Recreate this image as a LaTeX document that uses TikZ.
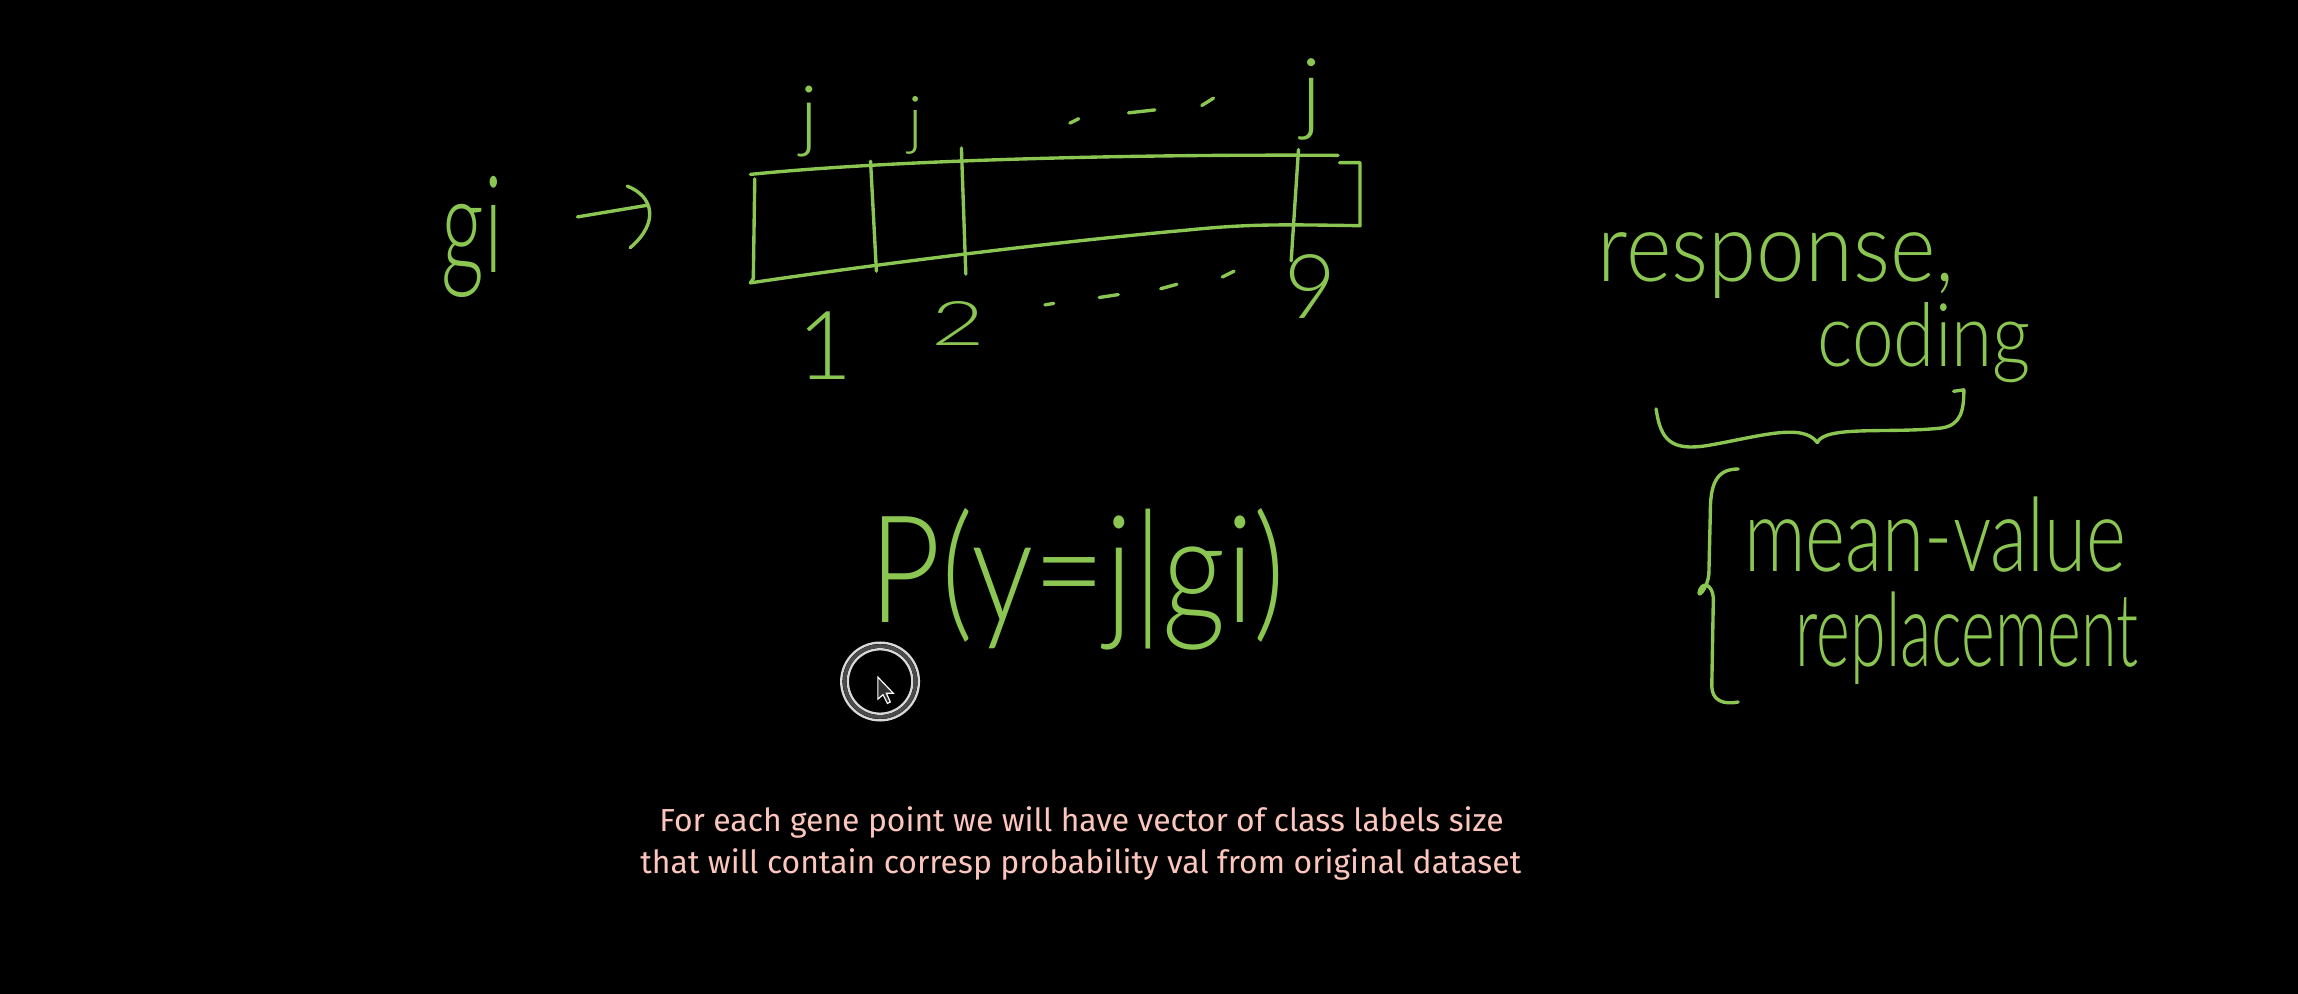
\documentclass[tikz,border=0pt]{standalone}
\usepackage{fontspec}
\usepackage{graphicx}
\IfFontExistsTF{Lato Light}{\newfontfamily\hw{Lato Light}}{\newfontfamily\hw{Lato}}
\newfontfamily\capfont{Fira Sans}
\definecolor{chalk}{RGB}{140,198,82}
\definecolor{capcol}{RGB}{252,198,188}
\newcommand\hwtext[3]{\scalebox{#2}[1]{\fontsize{#1}{#1}\selectfont #3}}
\tikzset{
  hand/.style={text=chalk, inner sep=0pt, font=\hw},
  stroke/.style={draw=chalk, line width=2.3pt, line cap=round, line join=round},
  captext/.style={text=capcol, inner sep=0pt, font=\capfont}
}
\begin{document}
\begin{tikzpicture}[x=1pt,y=-1pt]
\fill[black] (0,0) rectangle (1568,678);
\useasboundingbox (0,0) rectangle (1568,678);

% g_i and arrow
\node[hand, anchor=base west] (gi) at (301,186) {\hwtext{92}{0.62}{gi}};
\coordinate (arrS) at (394,148);
\coordinate (arrE) at (442,140);
\draw[stroke] (arrS) -- (arrE);
\draw[stroke] (428,127) .. controls (446,134) and (450,152) .. (430,169);

% table
\draw[stroke] (512,119) .. controls (600,110) and (760,105) .. (913,106);
\draw[stroke] (515,122) -- (514,190) -- (512,193);
\draw[stroke] (512,193) .. controls (600,180) and (720,165) .. (810,157) .. controls (850,153) and (870,153) .. (928,154) -- (928,111) -- (914,111);
\draw[stroke] (594,110) -- (598,185);
\draw[stroke] (656,101) -- (659,187);
\draw[stroke] (886,102) -- (881,178);

% labels above
\node[hand, anchor=base] (j1) at (552,97) {\hwtext{54}{1}{j}};
\node[hand, anchor=base] (j2) at (625,97) {\hwtext{44}{1}{j}};
\node[hand, anchor=base] (j3) at (895,84) {\hwtext{62}{1}{j}};
\draw[stroke] (730,84) -- (736,81);
\draw[stroke] (770,77) -- (788,75);
\draw[stroke] (820,72) -- (828,67);

% labels below
\node[hand, anchor=base] (n1) at (563,259) {\hwtext{65}{1}{1}};
\node[hand, anchor=base] (n2) at (654,236) {\hwtext{42}{1.5}{2}};
\node[hand, anchor=base] (n9) at (894,217) {\hwtext{61}{1}{9}};
\draw[stroke] (713,208) -- (719,207);
\draw[stroke] (750,203) -- (763,201);
\draw[stroke] (792,197) -- (803,194);
\draw[stroke] (834,189) -- (842,185);

% probability
\node[hand, anchor=base west] (prob) at (593,425) {\hwtext{102}{0.83}{P(y=j|gi)}};

% cursor
\draw[white!85!black, line width=1.6pt] (600.5,465) circle (26.5);
\draw[white!85!black, line width=1.6pt] (600.5,465) circle (22);
\draw[gray!60!black, line width=2.5pt] (600.5,465) circle (24.2);
\filldraw[draw=white, fill=gray!40!black, line width=0.8pt] (599,462) -- (599,477) -- (602.5,474) -- (605.5,480) -- (607.5,479) -- (604.8,473) -- (609.5,473) -- cycle;

% right side
\node[hand, anchor=base west] (resp) at (1090,192) {\hwtext{66}{0.9}{response,}};
\node[hand, anchor=base west] (cod) at (1240,250) {\hwtext{60}{0.85}{coding}};
\draw[stroke] (1130,279) .. controls (1133,300) and (1140,308) .. (1165,304) .. controls (1200,298) and (1230,288) .. (1240,302);
\draw[stroke] (1240,302) .. controls (1245,290) and (1290,296) .. (1325,292) .. controls (1338,290) and (1340,280) .. (1340,266) -- (1333,267);
\draw[stroke] (1186,320) .. controls (1170,320) and (1167,332) .. (1167,350) -- (1166,392) .. controls (1165,402) and (1157,410) .. (1160,402) .. controls (1163,396) and (1170,400) .. (1169,412) -- (1168,468) .. controls (1168,478) and (1176,481) .. (1186,479);
\node[hand, anchor=base west] (mv) at (1190,390) {\hwtext{70}{0.745}{mean-value}};
\node[hand, anchor=base west] (rep) at (1225,455) {\hwtext{70}{0.63}{replacement}};

% caption
\node[captext] (cap1) at (738,561) {\resizebox{576pt}{!}{For each gene point we will have vector of class labels size}};
\node[captext] (cap2) at (737.5,590) {\resizebox{601pt}{!}{that will contain corresp probability val from original dataset}};
\end{tikzpicture}
\end{document}
